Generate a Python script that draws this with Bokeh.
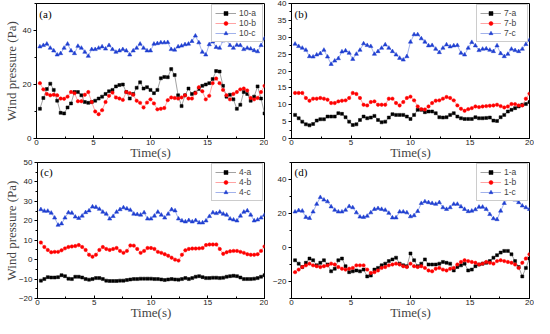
import numpy as np
from bokeh.plotting import figure
from bokeh.models import Range1d, SingleIntervalTicker, Legend, LegendItem, Label
from bokeh.layouts import column, row
from bokeh.embed import file_html
from bokeh.resources import INLINE

# sample times (s)
t = np.round(np.linspace(0.3, 20.0, 66), 3)

# panel (a)
s10a = [11, 15, 18.3, 20.3, 18, 14, 9.5, 9.3, 11.5, 13, 17.2, 17.2, 16, 13.5, 13.2, 13.5, 14, 14.8, 15.5, 16.5,
        17.5, 18, 19.3, 19.8, 20, 17.2, 14.8, 16.5, 18.8, 20.8, 18.5, 19, 18, 16.8, 18, 22.3, 22.8, 22.7, 25.7, 23.5,
        16, 12, 16, 18.5, 16.5, 17, 18.3, 19.5, 20, 20.5, 22, 25, 24.8, 19.5, 15.5, 16.2, 14.5, 11, 12.5, 17.2,
        16.5, 14, 15.5, 19.3, 14.8, 9.3]
s10b = [20.5, 18.2, 16.5, 16, 16.2, 16, 14.8, 14.7, 15.5, 17.2, 16.8, 13.8, 13.8, 16.2, 17.2, 13.5, 10, 9, 10.5, 13.5,
        15.8, 17, 15.2, 14.8, 14.3, 17.2, 16.8, 16.2, 14, 13.2, 11.5, 13.3, 14.5, 13, 10.8, 11, 11.3, 14.2, 15.2, 15,
        14.8, 15.2, 16, 14.8, 14.8, 16.8, 19, 17.5, 14.5, 15.8, 20.5, 22.2, 20.5, 18, 16, 14.5, 16.5, 17.2, 18.2, 18.5,
        17.8, 15, 14.5, 15, 17.2, 19.5]
s10c = [34, 34.5, 35, 33.5, 32.5, 31, 31.5, 33.5, 35, 32.5, 31.5, 34.2, 33.5, 32, 30.5, 33, 33, 33.5, 34, 33.2,
        34.5, 33, 32, 32.5, 33, 32.5, 31, 32.5, 33.5, 35, 33.5, 32.5, 32.5, 35, 35.2, 35.5, 35.5, 35.6, 33, 32.8,
        34, 34.3, 34.8, 35, 36, 38, 35.5, 32, 31, 34.8, 35.8, 33.8, 33.5, 36.2, 36.5, 34.5, 33.5, 34.6, 34.5, 33,
        33.5, 33.2, 32.6, 32.2, 34.5, 37]

# panel (b)
s7a = [7, 6, 5, 4.2, 3.9, 4.3, 5.3, 5.7, 5.7, 6.5, 6.5, 6.5, 7.5, 7.3, 6.3, 5, 4, 4.2, 5.5, 6.5,
       6, 6.2, 6.7, 5.5, 4.8, 5, 6.2, 7.2, 7, 7, 7, 6.5, 5.8, 7, 8.5, 8.5, 7.8, 8, 8, 7.5,
       6.3, 6.2, 6.3, 7, 7.5, 6.5, 6, 5.8, 5.8, 5.8, 6.3, 6, 6, 6.1, 6.2, 5.3, 5.2, 6.3, 7, 8,
       8.5, 9, 9.5, 10, 10.2, 10.8]
s7b = [13.5, 13.5, 13.5, 12, 11.2, 11.8, 11.8, 12, 11.8, 11.5, 10.5, 10.5, 11, 11.2, 11.3, 12, 13.5, 13.2, 12, 10,
       9.8, 10.8, 11, 10, 10, 10, 11.8, 11.8, 10.5, 9.8, 10.8, 12, 12.4, 11.3, 9.5, 8.7, 8.6, 9.5, 10.5, 11.2,
       11.3, 11.8, 12.3, 12, 11.3, 9.8, 8.8, 8.2, 8.7, 9, 9.5, 9.3, 9.5, 9.6, 9.7, 9.8, 10, 9.6, 9.2, 9.5,
       10.2, 10.2, 9.8, 9.8, 11.8, 13.3]
s7c = [28, 27.3, 26.8, 26.2, 24.3, 24.2, 24.8, 25.2, 26.2, 24.2, 22, 23, 23.7, 25.7, 26, 25.3, 23.5, 25, 26.2, 28.1,
       27.6, 27.3, 25, 25.8, 26.8, 27.8, 26.8, 25.8, 24.8, 23.8, 23.3, 24.3, 28.6, 30.8, 30.8, 29.6, 28.6, 27.5, 27.6, 26.5,
       25.5, 26.8, 27.8, 27.2, 27.5, 27.6, 25.3, 24.8, 26.8, 28.5, 27.5, 26.1, 26.5, 26.6, 26.2, 25.8, 27.5, 25.2, 24.3, 25,
       26.5, 26.1, 25.8, 26.5, 27.9, 29.2]

# panel (c)
s4a = [-10.8, -10, -9, -9.2, -9.2, -9, -8, -8.5, -9.8, -10, -8.8, -8.8, -9.2, -10, -10.3, -10, -9.5, -9.5, -10, -10.8,
       -11, -11, -11, -10.8, -10.8, -10.5, -10.2, -10, -10, -9.8, -9.8, -9.8, -9.8, -10, -10, -10.2, -10.5, -10.2, -10, -10.2,
       -10.3, -10, -9.5, -10, -9.5, -8.8, -8.5, -9, -9.5, -9.5, -9.3, -9.3, -9.5, -9.3, -8.8, -8.5, -8.3, -8.5, -9.2, -10,
       -10, -10, -9.8, -9.5, -8.8, -8]
s4b = [8.8, 6.5, 5, 3.8, 4, 4, 4.8, 5.8, 6.5, 6.8, 7, 7.5, 6.5, 5, 2.5, 1.5, 2.5, 5, 6.5, 5.5,
       5, 5.5, 6, 4.5, 3.5, 4.5, 7.3, 7.2, 5.5, 3.5, 4.5, 6, 6, 5.5, 4, 3.5, 2.8, 2, 1, 0,
       -0.5, 2.5, 4.8, 5.5, 5.7, 5.7, 5.8, 6, 7.5, 7.8, 7.8, 7.8, 5.5, 3, 3.8, 4.3, 4.5, 4.5, 4, 3.5,
       2.8, 2.5, 2.5, 2.8, 4.5, 6.8]
s4c = [25.8, 25, 25, 24, 21.5, 17.8, 18.5, 21.5, 24.2, 24, 22, 21.3, 22.5, 24.3, 25.2, 27.2, 27, 26, 24.5, 23.5,
       21, 22.3, 24.5, 25.8, 26.8, 26.2, 25.5, 23.5, 23.3, 23, 24.2, 21, 21, 22.5, 24.5, 23, 21.5, 23.5, 25.8, 25.2,
       21, 20, 19.5, 20.2, 19.5, 20.2, 19, 19, 20, 22.3, 24.2, 23.8, 24.5, 23.5, 23, 21, 20.5, 20, 22.5, 24.5,
       25.2, 23, 20, 20.5, 21.5, 23]

# panel (d)
s1a = [-7.5, -9.5, -11.5, -9, -6.5, -7.5, -10.5, -9, -7.5, -10, -14, -12.5, -7.5, -6.5, -11, -14.5, -14, -13.5, -14, -13,
       -17, -16.5, -13, -12, -10.5, -9.5, -8, -7, -6, -9.5, -10.5, -11, -3.5, -7.5, -11, -9.5, -7, -10, -10, -10,
       -9.5, -8.5, -9, -9.5, -13.5, -11.5, -10.5, -9.5, -13.5, -13, -11, -10, -9.5, -9, -8, -6, -4.5, -3, -2, -2,
       -4, -8, -11.5, -17, -12, -6.5]
s1b = [-14.5, -13, -11.5, -10.5, -9.5, -10.5, -11, -11.5, -11, -10.5, -9.5, -10, -11.5, -12.5, -13, -12.5, -12, -10.5, -10.5, -10.5,
       -13, -15, -14.5, -13.5, -12, -11.5, -10.5, -10, -9.5, -10, -11, -11.5, -9.5, -11, -11.5, -11, -12, -13.5, -14,
       -12.5, -12, -13, -13.5, -12.5, -12, -10, -8.5, -7.5, -8, -8.5, -9, -10, -9.5, -8.5, -9, -9.5, -8, -7.5, -8,
       -8.5, -9, -10, -12, -9, -6.5, -4]
s1c = [21, 21.8, 21.5, 17.8, 17.2, 21, 25.5, 29.5, 28, 27, 24, 22, 21, 21, 22, 24.2, 23.5, 20.5, 18, 17.8,
       18.5, 20.5, 22.5, 23, 22.5, 22, 20.2, 17.5, 17.5, 21, 21, 20.5, 18.2, 18.8, 21.3, 26, 27, 26.5, 26, 25.5,
       26.5, 23.5, 22.5, 23.5, 25.5, 25.5, 24, 22.5, 21.2, 21.5, 22.3, 23.8, 23.8, 22.5, 19.5, 17, 16.5, 21.5, 26, 28.5,
       29, 28, 26.5, 24.5, 23.5, 22.5]

SERIF = "Liberation Serif"
SANS = "Liberation Sans"


def make_panel(tag, names, series, yr, yint, width, height, bl, br, bt, bb, ylabel, ylab_standoff, tag_y, mb):
    p = figure(width=width, height=height, x_range=Range1d(0, 20), y_range=Range1d(*yr),
               output_backend="svg", toolbar_location=None,
               min_border_left=bl, min_border_right=br, min_border_top=bt, min_border_bottom=bb,
               margin=(0, 0, mb, 0))
    p.xgrid.visible = False
    p.ygrid.visible = False
    p.outline_line_color = "black"
    p.outline_line_alpha = 1.0
    p.outline_line_width = 1
    p.background_fill_color = "white"
    p.border_fill_alpha = 0.0

    xa = p.xaxis[0]
    xa.ticker = SingleIntervalTicker(interval=5, num_minor_ticks=2)
    xa.major_tick_in = 3
    xa.major_tick_out = 0
    xa.minor_tick_in = 2
    xa.minor_tick_out = 0
    xa.major_label_standoff = 1
    xa.major_label_text_font = SANS
    xa.major_label_text_font_size = "8px"
    xa.major_label_text_color = "#222222"
    xa.axis_label = "Time(s)"
    xa.axis_label_text_font = SERIF
    xa.axis_label_text_font_style = "normal"
    xa.axis_label_text_font_size = "13px"
    xa.axis_label_standoff = -3
    xa.axis_line_color = "black"

    ya = p.yaxis[0]
    ya.ticker = SingleIntervalTicker(interval=yint, num_minor_ticks=2)
    ya.major_tick_in = 0
    ya.major_tick_out = 3
    ya.minor_tick_in = 0
    ya.minor_tick_out = 2
    ya.major_label_standoff = 2
    ya.major_label_text_font = SANS
    ya.major_label_text_font_size = "8px"
    ya.major_label_text_color = "#222222"
    ya.axis_line_color = "black"
    if ylabel:
        ya.axis_label = "Wind pressure (Pa)"
        ya.axis_label_text_font = SERIF
        ya.axis_label_text_font_style = "normal"
        ya.axis_label_text_font_size = "13px"
        ya.axis_label_standoff = ylab_standoff

    styles = [("#000000", "#8a8a8a", "square", 3.0),
              ("#ff0000", "#ff8c8c", "circle", 3.4),
              ("#1f3fd0", "#8a9ee6", "triangle", 4.2)]
    items = []
    for name, vals, (mc, lc, mk, sz) in zip(names, series, styles):
        ln = p.line(t, vals, line_color=lc, line_width=0.8)
        sc = p.scatter(t, vals, marker=mk, size=sz, fill_color=mc, line_color=mc, line_width=0.5)
        items.append(LegendItem(label=name, renderers=[ln, sc]))

    legend = Legend(items=items, location="top_right", label_text_font=SANS,
                    label_text_font_size="8.5px", label_height=10, glyph_height=10, glyph_width=21,
                    label_standoff=3, spacing=0, padding=3, margin=1,
                    border_line_color="#9a9a9a", border_line_width=1, background_fill_alpha=1.0)
    p.add_layout(legend)

    p.add_layout(Label(x=0.25, y=tag_y, text=tag, text_baseline="top", text_align="left",
                       text_font=SERIF, text_font_size="11px", text_color="black"))
    return p


pa = make_panel("(a)", ["10-a", "10-b", "10-c"], [s10a, s10b, s10c], (0, 50), 20,
                268, 166, 30, 4, 3, 28, True, 1, 48.5, -8)
pb = make_panel("(b)", ["7-a", "7-b", "7-c"], [s7a, s7b, s7c], (0, 40), 5,
                266, 166, 23, 5, 3, 28, False, 0, 38.8, -8)
pc = make_panel("(c)", ["4-a", "4-b", "4-c"], [s4a, s4b, s4c], (-20, 50), 10,
                268, 168, 30, 4, 4, 28, True, -3, 48, -8)
pd = make_panel("(d)", ["1-a", "1-b", "1-c"], [s1a, s1b, s1c], (-30, 50), 20,
                266, 168, 23, 5, 4, 28, False, 0, 47.7, -8)

layout = column(row(pa, pb), row(pc, pd))
open("out.html", "w").write(file_html(layout, INLINE))
